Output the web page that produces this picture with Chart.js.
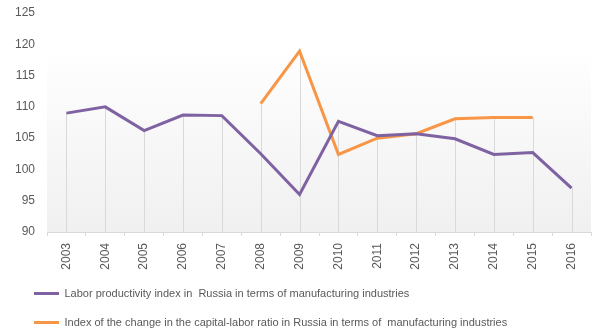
<!DOCTYPE html>
<html>
<head>
<meta charset="utf-8">
<script src="https://cdn.jsdelivr.net/npm/chart.js@4.4.1/dist/chart.umd.min.js"></script>
<style>
  html, body { margin: 0; padding: 0; background: #ffffff; }
  #wrap { width: 605px; height: 335px; position: relative; }
</style>
</head>
<body>
<div id="wrap"><canvas id="c" width="605" height="335"></canvas></div>
<script>
const years = ['2003','2004','2005','2006','2007','2008','2009','2010','2011','2012','2013','2014','2015','2016'];
const laborProductivity = [109.0, 110.0, 106.2, 108.7, 108.6, 102.5, 96.0, 107.7, 105.4, 105.7, 104.9, 102.4, 102.7, 97.0];
const capitalLaborRatio = [null, null, null, null, null, 110.5, 118.9, 102.4, 105.0, 105.7, 108.1, 108.3, 108.3, null];
const seriesNames = [
  'Labor productivity index in  Russia in terms of manufacturing industries',
  'Index of the change in the capital-labor ratio in Russia in terms of  manufacturing industries'
];
const yMin = 90, yMax = 125, yStep = 5;

const FONT = 'Liberation Sans';
const TEXT = '#595959';

const bgAndDrop = {
  id: 'bgAndDrop',
  beforeDatasetsDraw(chart) {
    const {ctx, chartArea: a, scales: {x, y}} = chart;
    ctx.save();
    const g = ctx.createLinearGradient(0, a.top, 0, a.bottom);
    g.addColorStop(0, '#ffffff');
    g.addColorStop(0.15, '#ffffff');
    g.addColorStop(1, '#f0f0f0');
    ctx.fillStyle = g;
    ctx.fillRect(a.left, a.top, a.right - a.left, a.bottom - a.top);
    ctx.strokeStyle = '#d9d9d9';
    ctx.lineWidth = 1;
    chart.data.labels.forEach((lab, i) => {
      let m = null;
      chart.data.datasets.forEach(ds => {
        const v = ds.data[i];
        if (v !== null && v !== undefined && (m === null || v > m)) m = v;
      });
      if (m === null) return;
      const px = Math.round(x.getPixelForValue(i)) + 0.5;
      ctx.beginPath();
      ctx.moveTo(px, y.getPixelForValue(m));
      ctx.lineTo(px, a.bottom);
      ctx.stroke();
    });
    ctx.restore();
  }
};

const shiftLegend = {
  id: 'shiftLegend',
  afterLayout(chart) {
    if (chart.legend) { chart.legend.left += 1; }
  }
};

new Chart(document.getElementById('c'), {
  type: 'line',
  data: {
    labels: years,
    datasets: [
      {
        label: seriesNames[0],
        data: laborProductivity,
        borderColor: '#7f62a1',
        backgroundColor: '#7f62a1',
        borderWidth: 3,
        pointRadius: 0,
        tension: 0,
        spanGaps: false
      },
      {
        label: seriesNames[1],
        data: capitalLaborRatio,
        borderColor: '#f79646',
        backgroundColor: '#f79646',
        borderWidth: 3,
        pointRadius: 0,
        tension: 0,
        spanGaps: false
      }
    ]
  },
  options: {
    responsive: false,
    animation: false,
    layout: { padding: { left: 15, right: 14, top: 0, bottom: -3 } },
    plugins: {
      tooltip: { enabled: false },
      legend: {
        position: 'bottom',
        align: 'start',
        labels: {
          boxWidth: 25,
          boxHeight: 3,
          padding: 18,
          color: TEXT,
          font: { family: FONT, size: 11 },
          generateLabels(chart) {
            return Chart.defaults.plugins.legend.labels.generateLabels(chart).map(l => Object.assign(l, { lineWidth: 0 }));
          }
        }
      }
    },
    scales: {
      x: {
        offset: true,
        grid: { offset: true, drawOnChartArea: false, drawTicks: true, tickLength: 4, color: '#d9d9d9' },
        border: { display: true, color: '#d9d9d9' },
        ticks: { color: TEXT, font: { family: FONT, size: 12 }, minRotation: 90, maxRotation: 90, padding: 7, autoSkip: false },
        afterFit(scale) { scale.height = 38; }
      },
      y: {
        min: yMin,
        max: yMax,
        grid: { display: false, drawTicks: false, tickLength: 0 },
        border: { display: false },
        ticks: { stepSize: yStep, color: TEXT, font: { family: FONT, size: 12 }, padding: 12 },
        afterFit(scale) { scale.width = 32; scale.paddingTop = 13; scale.paddingBottom = 0; }
      }
    }
  },
  plugins: [bgAndDrop, shiftLegend]
});
</script>
</body>
</html>
